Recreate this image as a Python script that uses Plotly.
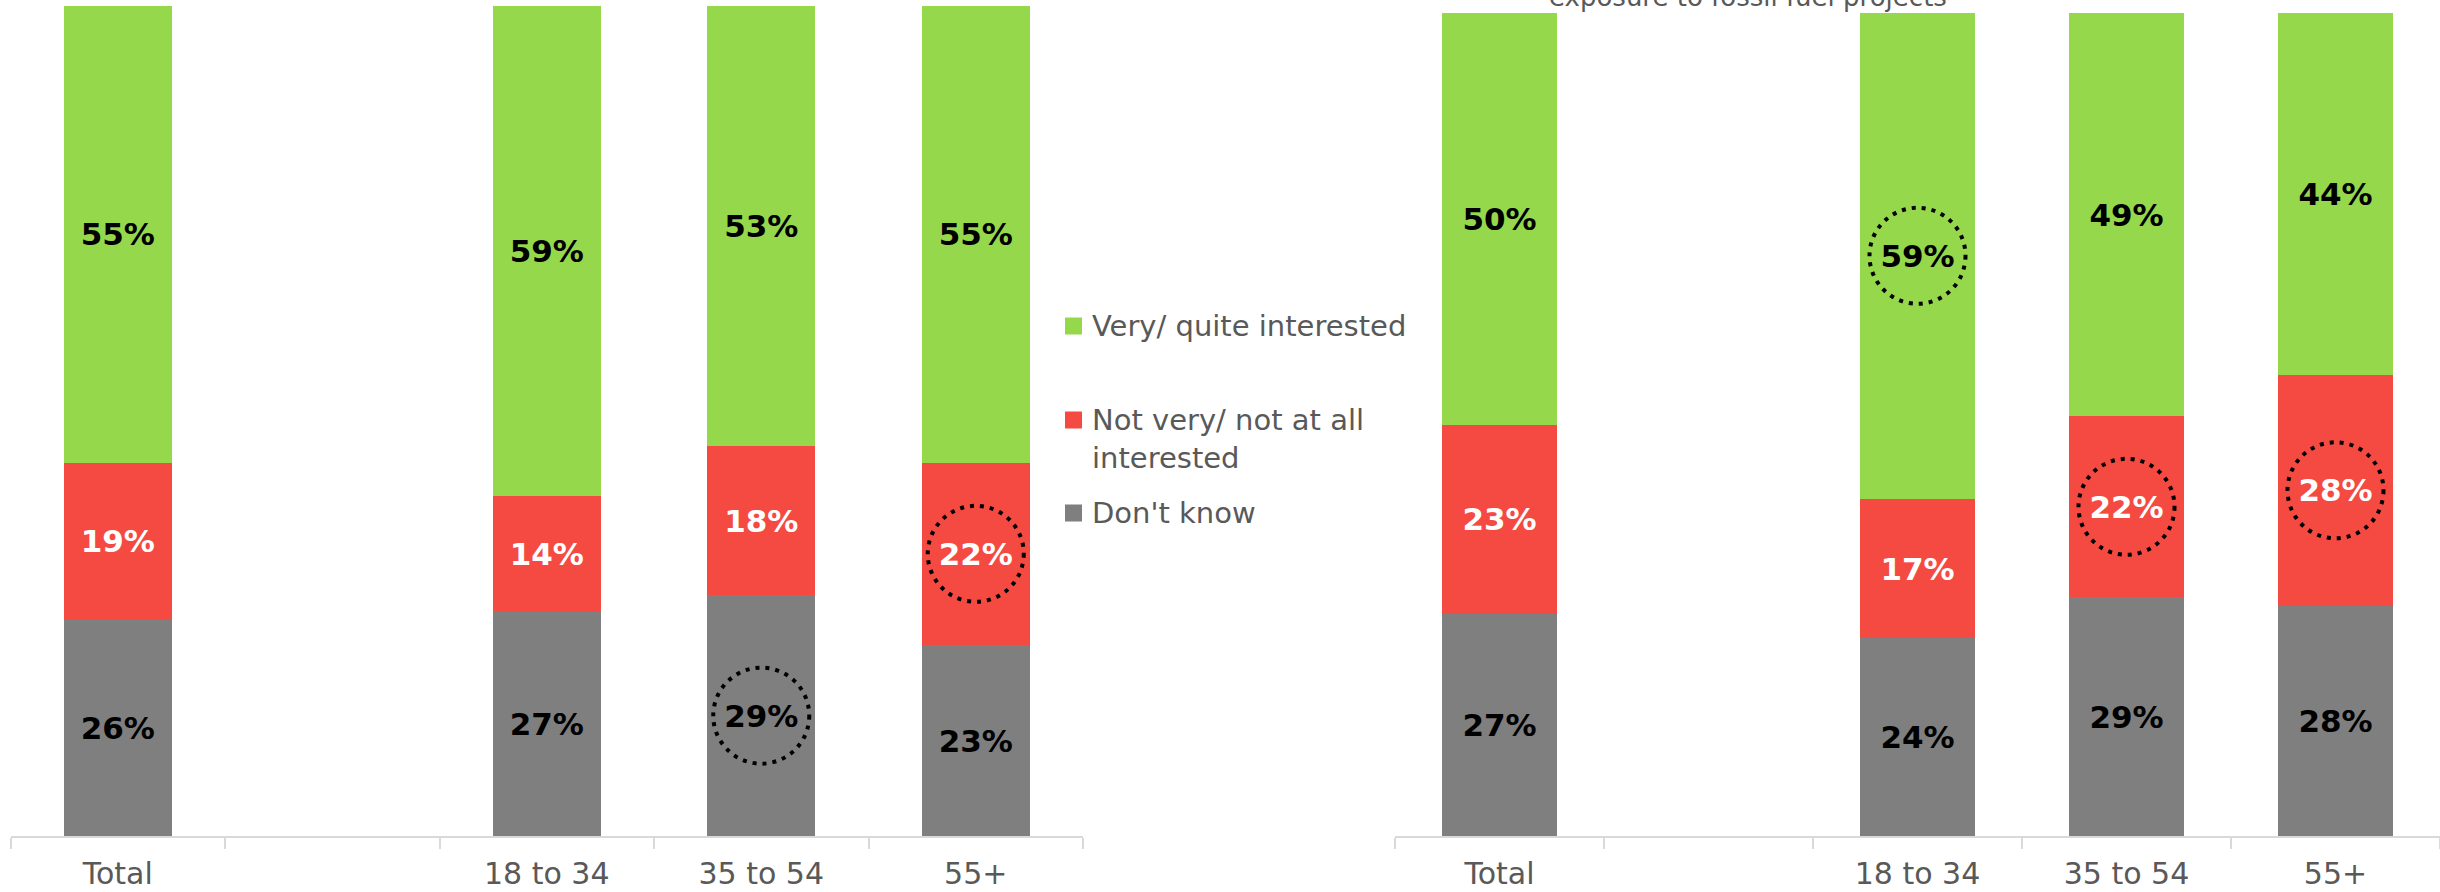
import plotly.graph_objects as go

# Age-group breakdown, two panels; the blank category leaves a gap after "Total"
categories = ["Total", " ", "18 to 34", "35 to 54", "55+"]
series_names = ["Don't know", "Not very/ not at all<br>interested", "Very/ quite interested"]
series_colors = ["#7F7F7F", "#F44A41", "#96D84B"]
label_colors = ["#000000", "#FFFFFF", "#000000"]

left_dont_know = [26, None, 27, 29, 23]
left_not_interested = [19, None, 14, 18, 22]
left_interested = [55, None, 59, 53, 55]

right_dont_know = [27, None, 24, 29, 28]
right_not_interested = [23, None, 17, 22, 28]
right_interested = [50, None, 59, 49, 44]

right_title = "exposure to fossil fuel projects"

# (category, series index) of the segments ringed with a dotted circle
left_highlights = [("35 to 54", 0), ("55+", 1)]
right_highlights = [("18 to 34", 2), ("35 to 54", 1), ("55+", 1)]

panels = [
    ("x", "y", [left_dont_know, left_not_interested, left_interested], 0.505, left_highlights),
    ("x2", "y2", [right_dont_know, right_not_interested, right_interested], 0.55, right_highlights),
]

AXIS_GREY = "#D9D9D9"
TEXT_GREY = "#595959"
FONT = "DejaVu Sans"

fig = go.Figure()
shapes = []

for xa, ya, stack, bar_w, highlights in panels:
    for i, values in enumerate(stack):
        fig.add_trace(go.Bar(
            x=categories,
            y=values,
            name=series_names[i],
            xaxis=xa,
            yaxis=ya,
            width=bar_w,
            marker=dict(color=series_colors[i], line=dict(width=0)),
            texttemplate="<b>%{y}%</b>",
            textposition="inside",
            insidetextanchor="middle",
            textangle=0,
            constraintext="none",
            textfont=dict(family=FONT, size=31, color=label_colors[i]),
            showlegend=False,
            hoverinfo="skip",
        ))
    for cat, s in highlights:
        idx = categories.index(cat)
        base = sum(stack[k][idx] for k in range(s))
        mid = base + stack[s][idx] / 2
        shapes.append(dict(
            type="circle", xref=xa, yref=ya,
            xsizemode="pixel", ysizemode="pixel",
            xanchor=cat, yanchor=mid,
            x0=-48, x1=48, y0=-48, y1=48,
            line=dict(color="black", width=4, dash="4px,6px"),
            layer="above",
        ))

# Legend drawn as swatches plus labels, stacked top to bottom
legend_order = [2, 1, 0]
legend_centers = [326, 420, 513]   # pixel rows of the swatches
text_centers = [326, 439, 513]
annotations = []
H = 892
W = 2440
for k, s in enumerate(legend_order):
    cy = legend_centers[k]
    shapes.append(dict(
        type="rect", xref="paper", yref="paper",
        x0=1065 / W, x1=1082 / W,
        y0=1 - (cy + 8.5) / H, y1=1 - (cy - 8.5) / H,
        fillcolor=series_colors[s], line=dict(width=0),
    ))
    annotations.append(dict(
        text=series_names[s], xref="paper", yref="paper",
        x=1090 / W, y=1 - text_centers[k] / H,
        xanchor="left", yanchor="middle", align="left", showarrow=False,
        font=dict(family=FONT, size=29, color=TEXT_GREY),
    ))

annotations.append(dict(
    text=right_title, xref="paper", yref="paper",
    x=1748 / W, y=1 + 3 / H, xanchor="center", yanchor="middle",
    showarrow=False, font=dict(family=FONT, size=26, color=TEXT_GREY),
))

xaxis_common = dict(
    type="category",
    categoryorder="array",
    categoryarray=categories,
    showline=True, linecolor=AXIS_GREY, linewidth=2,
    ticks="outside", tickson="boundaries", ticklen=11, tickwidth=2, tickcolor=AXIS_GREY,
    showgrid=False, zeroline=False,
    tickfont=dict(family=FONT, size=30, color=TEXT_GREY),
    ticklabelstandoff=10,
    fixedrange=True,
)
yaxis_common = dict(
    range=[0, 100], showgrid=False, zeroline=False,
    showticklabels=False, showline=False, ticks="", fixedrange=True,
)

fig.update_layout(
    width=W, height=H,
    margin=dict(l=0, r=0, t=0, b=0),
    paper_bgcolor="white", plot_bgcolor="white",
    barmode="stack",
    xaxis=dict(domain=[10.5 / W, 1083 / W], anchor="y", **xaxis_common),
    yaxis=dict(domain=[1 - 836 / H, 1 - 6 / H], anchor="x", **yaxis_common),
    xaxis2=dict(domain=[1395 / W, 1.0], anchor="y2", **xaxis_common),
    yaxis2=dict(domain=[1 - 836 / H, 1 - 13 / H], anchor="x2", **yaxis_common),
    shapes=shapes,
    annotations=annotations,
    showlegend=False,
)

fig.write_html("out.html")
